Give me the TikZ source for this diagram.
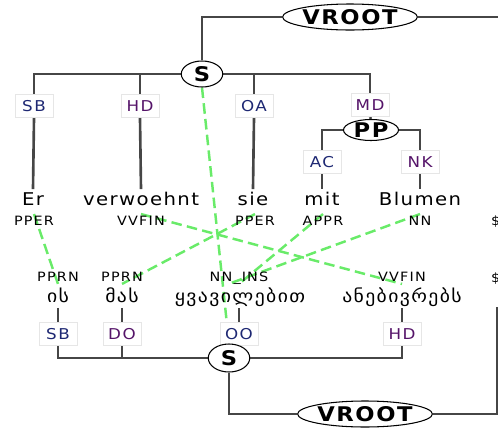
\documentclass[tikz,border=0pt]{standalone}
\usepackage{fontspec}
\setmainfont{DejaVu Sans}
\newfontfamily\wordfont[LetterSpace=8,FakeStretch=1.12]{DejaVu Sans}
\newfontfamily\tagfont[LetterSpace=9,FakeStretch=1.12]{DejaVu Sans}
\newfontfamily\labfont[LetterSpace=10,FakeStretch=1.12]{DejaVu Sans}
\usetikzlibrary{positioning, shapes.geometric, backgrounds}

\definecolor{edgegray}{RGB}{70,70,70}
\definecolor{aligngreen}{RGB}{105,235,105}
\definecolor{labblue}{RGB}{30,40,115}
\definecolor{labpurple}{RGB}{85,20,105}
\definecolor{boxline}{RGB}{230,230,230}

\begin{document}
\begin{tikzpicture}[
    x=0.02cm, y=-0.02cm,
    cat/.style={
        draw=black,
        ellipse,
        fill=white,
        line width=0.6pt,
        inner sep=0pt,
        font=\wordfont\bfseries\fontsize{11.5}{13}\selectfont
    },
    rootcat/.style={cat, minimum width=2.24cm, minimum height=0.52cm},
    scat/.style={cat, minimum width=0.83cm, minimum height=0.52cm},
    ppcat/.style={cat, minimum width=1.1cm, minimum height=0.42cm},
    edgelab/.style={
        draw=boxline,
        fill=white,
        text=labblue,
        minimum width=0.76cm,
        minimum height=0.47cm,
        inner sep=1pt,
        font=\labfont\fontsize{8.5}{10}\selectfont
    },
    word/.style={
        inner sep=1pt,
        text height=8pt,
        text depth=2pt,
        font=\wordfont\fontsize{10}{12}\selectfont
    },
    postag/.style={
        inner sep=1pt,
        text height=5.5pt,
        text depth=0pt,
        font=\tagfont\fontsize{7.3}{9}\selectfont
    },
    tree/.style={draw=edgegray, line width=1.5pt},
    align/.style={draw=aligngreen, line width=1.4pt, dash pattern=on 6pt off 3pt}
]
\useasboundingbox (0,0) rectangle (498,427);

% --- deutscher Satz (oben) ---
\node[rootcat] (vroot1) at (350,17) {VROOT};
\node[scat] (s1) at (202,74) {S};

\node[edgelab] (sb1) at (34,106) {SB};
\node[edgelab, text=labpurple] (hd1) at (140,106) {HD};
\node[edgelab] (oa1) at (254,106) {OA};
\node[edgelab, text=labpurple] (md1) at (370,105) {MD};

\node[ppcat] (pp) at (371,130) {PP};
\node[edgelab] (ac) at (322,162) {AC};
\node[edgelab, text=labpurple] (nk) at (420,162) {NK};

\node[word] (er) at (33,200) {Er};
\node[word] (verw) at (141,200) {verwoehnt};
\node[word] (sie) at (253,200) {sie};
\node[word] (mit) at (322,200) {mit};
\node[word] (blumen) at (420,200) {Blumen};

\node[postag] (er-t) at (34,221) {PPER};
\node[postag] (verw-t) at (141,221) {VVFIN};
\node[postag] (sie-t) at (255,221) {PPER};
\node[postag] (mit-t) at (323,221) {APPR};
\node[postag] (blumen-t) at (420,221) {NN};
\node[postag, anchor=west] (punct1-t) at (489,221) {\$.};

% --- georgischer Satz (unten) ---
\node[postag] (is-t) at (58,277) {PPRN};
\node[postag] (mas-t) at (122,277) {PPRN};
\node[postag] (qv-t) at (239,277) {NN\_INS};
\node[postag] (aneb-t) at (402,277) {VVFIN};
\node[postag, anchor=west] (punct2-t) at (489,278) {\$.};

\node[word] (is) at (58,297) {ის};
\node[word] (mas) at (122,297) {მას};
\node[word] (qv) at (240,297) {ყვავილებით};
\node[word] (aneb) at (402,297) {ანებივრებს};

\node[edgelab] (sb2) at (58,334) {SB};
\node[edgelab, text=labpurple] (do2) at (122,334) {DO};
\node[edgelab] (oo2) at (239,334) {OO};
\node[edgelab, text=labpurple] (hd2) at (402,334) {HD};

\node[scat, minimum height=0.56cm] (s2) at (229,358) {S};
\node[rootcat] (vroot2) at (365,414) {VROOT};

\coordinate (offtop) at (504,17);
\coordinate (offbot) at (504,414);
\coordinate (punct2) at (497,307);

\begin{scope}[on background layer]
% --- Kanten oben ---
\draw[tree] (vroot1.west) -| (s1.north);
\draw[tree] (vroot1.east) -- (offtop);
\draw[tree] (s1.west) -| (sb1.north);
\draw[tree] (s1.west) -| (hd1.north);
\draw[tree] (s1.east) -| (oa1.north);
\draw[tree] (s1.east) -| (md1.north);
\draw[tree] (md1.south) -- (pp.north);
\draw[tree] (pp.west) -| (ac.north);
\draw[tree] (pp.east) -| (nk.north);
\draw[tree] (sb1.south) -- (er.north);
\draw[tree] (hd1.south) -- (verw.north);
\draw[tree] (oa1.south) -- (sie.north);
\draw[tree] (ac.south) -- (mit.north);
\draw[tree] (nk.south) -- (blumen.north);

% --- Kanten unten ---
\draw[tree] (is.south) -- (sb2.north);
\draw[tree] (mas.south) -- (do2.north);
\draw[tree] (qv.south -| oo2.north) -- (oo2.north);
\draw[tree] (aneb.south) -- (hd2.north);
\draw[tree] (sb2.south) |- (s2.west);
\draw[tree] (do2.south) |- (s2.west);
\draw[tree] (oo2.south) |- (s2.east);
\draw[tree] (hd2.south) |- (s2.east);
\draw[tree] (s2.south) |- (vroot2.west);
\draw[tree] (vroot2.east) -- (offbot);
\draw[tree] (punct2) |- (offbot);

% --- Alignment ---
\draw[align] (s1.south) -- (s2.north);
\draw[align] (er-t.north) -- (is-t.south);
\draw[align] (verw-t.north) -- (aneb-t.south);
\draw[align] (sie-t.north) -- (mas-t.south);
\draw[align] (mit-t.north) -- (qv-t.south);
\draw[align] (blumen-t.north) -- ([xshift=-6]qv-t.south);
\end{scope}

\end{tikzpicture}
\end{document}
